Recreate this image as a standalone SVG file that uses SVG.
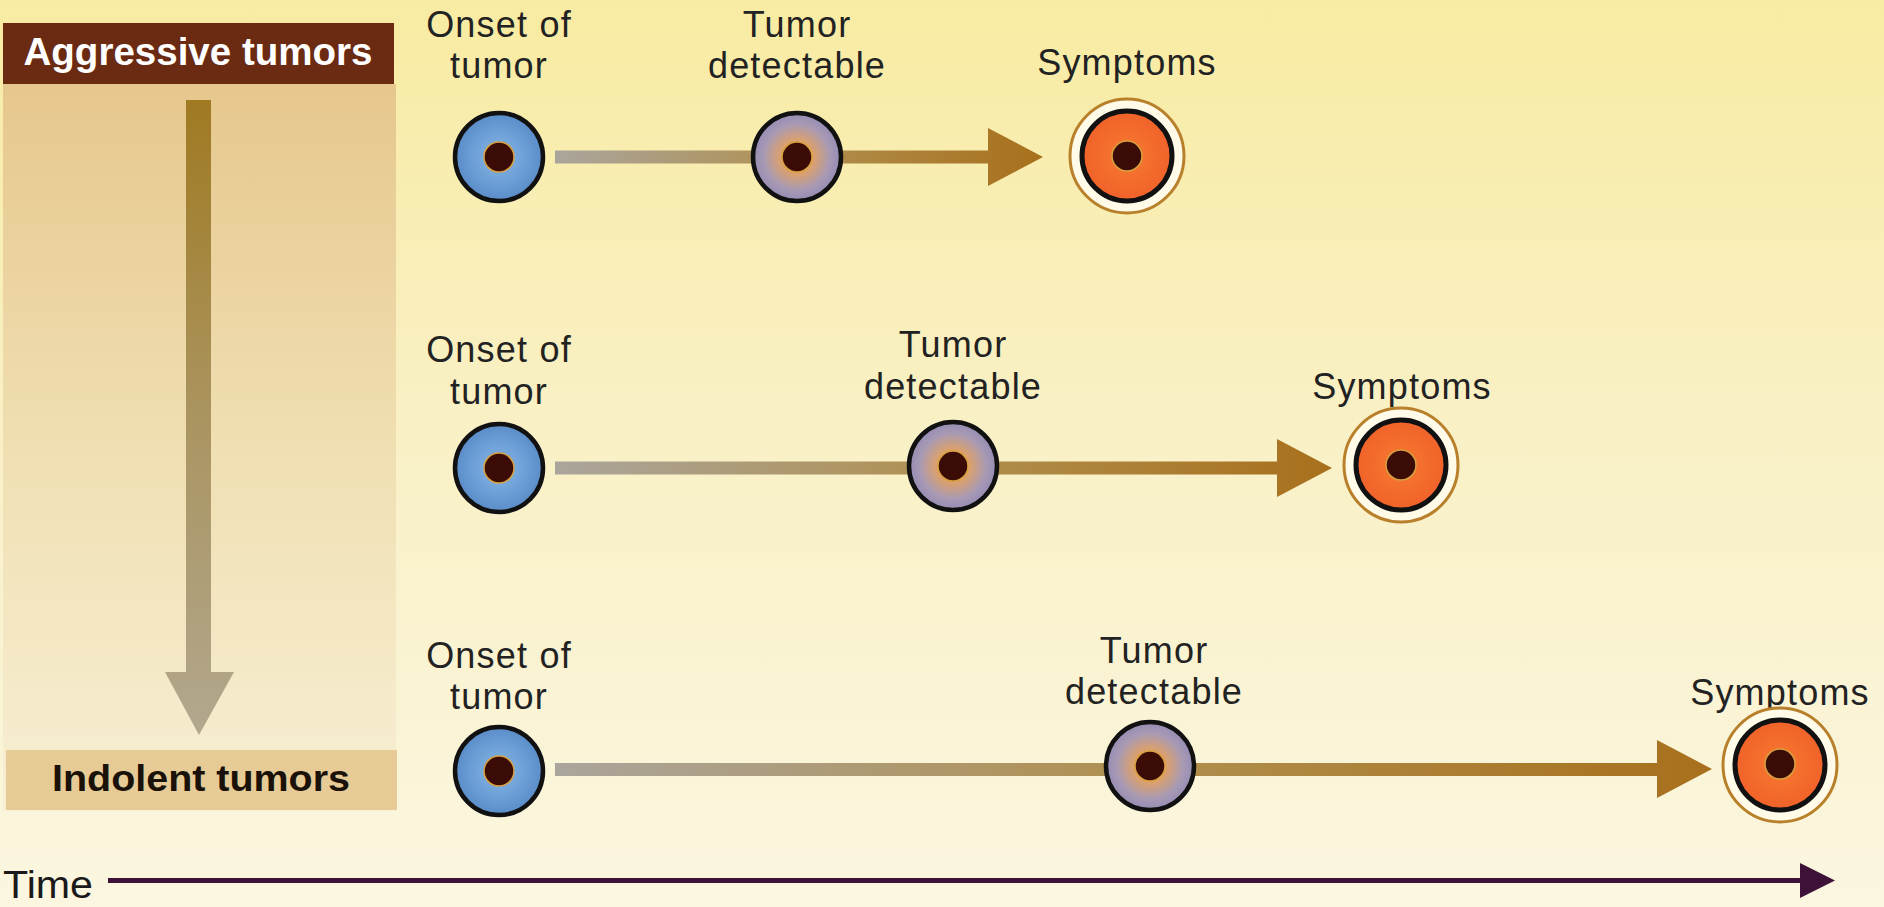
<svg xmlns="http://www.w3.org/2000/svg" width="1884" height="907" viewBox="0 0 1884 907">
<defs>
<linearGradient id="bg" x1="0" y1="0" x2="0" y2="1">
<stop offset="0" stop-color="#f8eba2"/>
<stop offset="0.45" stop-color="#f9f0c4"/>
<stop offset="1" stop-color="#fbf6e0"/>
</linearGradient>
<linearGradient id="panel" x1="0" y1="0" x2="0" y2="1">
<stop offset="0" stop-color="#e6c78d"/>
<stop offset="0.5" stop-color="#f0dfb2"/>
<stop offset="1" stop-color="#f7efd4"/>
</linearGradient>
<linearGradient id="vArrow" x1="0" y1="0" x2="0" y2="1">
<stop offset="0" stop-color="#a07a22"/>
<stop offset="0.5" stop-color="#aa9460"/>
<stop offset="1" stop-color="#b2a88e"/>
</linearGradient>
<linearGradient id="conn" x1="0" y1="0" x2="1" y2="0">
<stop offset="0" stop-color="#aaa59c"/>
<stop offset="0.5" stop-color="#b09050"/>
<stop offset="1" stop-color="#a8701c"/>
</linearGradient>
<radialGradient id="blue" cx="0.5" cy="0.5" r="0.5">
<stop offset="0" stop-color="#8ab8e6"/>
<stop offset="0.6" stop-color="#6c9fd6"/>
<stop offset="1" stop-color="#5a8cc8"/>
</radialGradient>
<radialGradient id="lav" cx="0.5" cy="0.5" r="0.5">
<stop offset="0" stop-color="#f6a030"/>
<stop offset="0.4" stop-color="#d9a070"/>
<stop offset="0.75" stop-color="#a89ab4"/>
<stop offset="1" stop-color="#958cb4"/>
</radialGradient>
<radialGradient id="orange" cx="0.5" cy="0.5" r="0.5">
<stop offset="0" stop-color="#f87a30"/>
<stop offset="1" stop-color="#f0622a"/>
</radialGradient>
</defs>
<style>
.lbl{font-family:"Liberation Sans",Arial,sans-serif;font-size:36px;fill:#222;text-anchor:middle;letter-spacing:1.2px}
.cell{stroke:#111;stroke-width:4.5}
.sym{stroke:#111;stroke-width:5}
.nuc{fill:#3a0c05;stroke:#d8a040;stroke-width:1.5}
.ring{fill:#fffbe8;stroke:#b8802a;stroke-width:3}
.conn{fill:url(#conn)}
</style>
<rect x="0" y="0" width="1884" height="907" fill="url(#bg)"/>

<g id="scale-panel">
<rect x="3" y="84" width="393" height="727" fill="url(#panel)"/>
<rect x="3" y="23" width="391" height="61" fill="#6b2a12"/>
<text x="198" y="65" font-family="Liberation Sans, Arial, sans-serif" font-size="38" font-weight="bold" fill="#ffffff" text-anchor="middle" textLength="349" lengthAdjust="spacingAndGlyphs">Aggressive tumors</text>
<path d="M186,100 H211 V672 H234 L199,735 L165,672 H186 Z" fill="url(#vArrow)"/>
<rect x="6" y="750" width="391" height="60" fill="#e6cb96"/>
<text x="201" y="791" font-family="Liberation Sans, Arial, sans-serif" font-size="36" font-weight="bold" fill="#1a1208" text-anchor="middle" textLength="298" lengthAdjust="spacingAndGlyphs">Indolent tumors</text>
</g>

<g id="connectors">
<path class="conn" d="M555,150.5 H988 V128 L1043,157 L988,186 V163.5 H555 Z"/>
<path class="conn" d="M555,461.5 H1277 V439 L1332,468 L1277,497 V474.5 H555 Z"/>
<path class="conn" d="M555,763 H1657 V740 L1712,769 L1657,798 V776 H555 Z"/>
</g>

<g id="row1-onset">
<text class="lbl" x="499" y="37">Onset of</text>
<text class="lbl" x="499" y="78">tumor</text>
<circle class="cell" cx="499" cy="157" r="44" fill="url(#blue)"/>
<circle class="nuc" cx="499" cy="157" r="15"/>
</g>
<g id="row1-detectable">
<text class="lbl" x="797" y="37">Tumor</text>
<text class="lbl" x="797" y="78">detectable</text>
<circle class="cell" cx="797" cy="157" r="44" fill="url(#lav)"/>
<circle class="nuc" cx="797" cy="157" r="15"/>
</g>
<g id="row1-symptoms">
<text class="lbl" x="1127" y="75">Symptoms</text>
<circle class="ring" cx="1127" cy="156" r="57"/>
<circle class="sym" cx="1127" cy="156" r="45" fill="url(#orange)"/>
<circle class="nuc" cx="1127" cy="156" r="15"/>
</g>

<g id="row2-onset">
<text class="lbl" x="499" y="362">Onset of</text>
<text class="lbl" x="499" y="404">tumor</text>
<circle class="cell" cx="499" cy="468" r="44" fill="url(#blue)"/>
<circle class="nuc" cx="499" cy="468" r="15"/>
</g>
<g id="row2-detectable">
<text class="lbl" x="953" y="357">Tumor</text>
<text class="lbl" x="953" y="399">detectable</text>
<circle class="cell" cx="953" cy="466" r="44" fill="url(#lav)"/>
<circle class="nuc" cx="953" cy="466" r="15"/>
</g>
<g id="row2-symptoms">
<text class="lbl" x="1402" y="399">Symptoms</text>
<circle class="ring" cx="1401" cy="465" r="57"/>
<circle class="sym" cx="1401" cy="465" r="45" fill="url(#orange)"/>
<circle class="nuc" cx="1401" cy="465" r="15"/>
</g>

<g id="row3-onset">
<text class="lbl" x="499" y="668">Onset of</text>
<text class="lbl" x="499" y="709">tumor</text>
<circle class="cell" cx="499" cy="771" r="44" fill="url(#blue)"/>
<circle class="nuc" cx="499" cy="771" r="15"/>
</g>
<g id="row3-detectable">
<text class="lbl" x="1154" y="663">Tumor</text>
<text class="lbl" x="1154" y="704">detectable</text>
<circle class="cell" cx="1150" cy="766" r="44" fill="url(#lav)"/>
<circle class="nuc" cx="1150" cy="766" r="15"/>
</g>
<g id="row3-symptoms">
<text class="lbl" x="1780" y="705">Symptoms</text>
<circle class="ring" cx="1780" cy="765" r="57"/>
<circle class="sym" cx="1780" cy="765" r="45" fill="url(#orange)"/>
<circle class="nuc" cx="1780" cy="764" r="15"/>
</g>

<g id="time-axis">
<text x="3" y="898" font-family="Liberation Sans, Arial, sans-serif" font-size="39" fill="#1a1a1a" textLength="90" lengthAdjust="spacingAndGlyphs">Time</text>
<path d="M108,878 H1800 V863 L1835,880.5 L1800,898 V883 H108 Z" fill="#3e1238"/>
</g>
</svg>
